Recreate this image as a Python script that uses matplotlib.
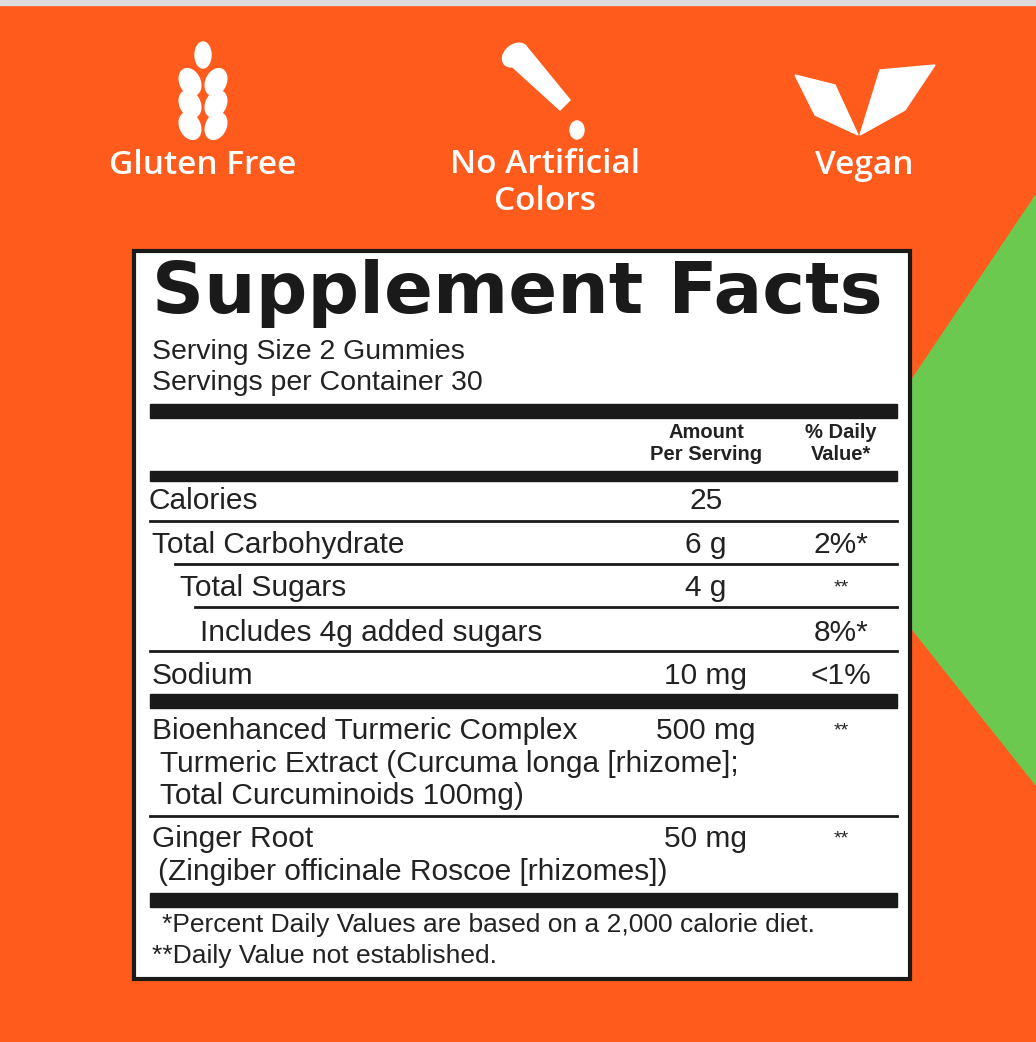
import matplotlib.pyplot as plt
from matplotlib.patches import Polygon, Rectangle, Ellipse

ORANGE = '#FE5B1D'
GREEN = '#6CC94F'

badges = ['Gluten Free', 'No Artificial\nColors', 'Vegan']
badge_x = [203, 545, 864]

serving_lines = ['Serving Size 2 Gummies', 'Servings per Container 30']
row_labels = ['Calories', 'Total Carbohydrate', 'Total Sugars', 'Includes 4g added sugars',
              'Sodium', 'Bioenhanced Turmeric Complex', 'Ginger Root']
row_indent = [148, 152, 180, 200, 152, 152, 152]
row_y = [501, 545, 588, 633, 676, 731, 839]
row_amount = ['25', '6 g', '4 g', '', '10 mg', '500 mg', '50 mg']
row_dv = ['', '2%*', '**', '8%*', '<1%', '**', '**']
sub_lines = [(160, 764, 'Turmeric Extract (Curcuma longa [rhizome];'),
             (160, 796, 'Total Curcuminoids 100mg)'),
             (158, 872, '(Zingiber officinale Roscoe [rhizomes])')]
footnotes = ['*Percent Daily Values are based on a 2,000 calorie diet.',
             '**Daily Value not established.']

BODY = 21.5

fig = plt.figure(figsize=(10.36, 10.42), dpi=100)
ax = fig.add_axes([0, 0, 1, 1])
ax.set_xlim(0, 1036)
ax.set_ylim(1042, 0)
ax.axis('off')
ax.add_patch(Rectangle((0, 0), 1036, 1042, color=ORANGE, zorder=0))
ax.add_patch(Rectangle((0, 0), 1036, 5, color='#dddddd', zorder=1))
ax.add_patch(Polygon([(1036, 195), (905, 390), (905, 620), (1036, 785)], color=GREEN, zorder=1))

# icons
for dy in range(3):
    for sx in (-1, 1):
        ax.add_patch(Ellipse((203 + sx * 13, 82 + dy * 22), 20, 28, angle=sx * 25, color='white', zorder=2))
ax.add_patch(Ellipse((203, 55), 16, 26, color='white', zorder=2))
ax.add_patch(Polygon([(505, 60), (525, 45), (570, 100), (560, 110)], color='white', zorder=2))
ax.add_patch(Ellipse((515, 55), 28, 20, angle=-40, color='white', zorder=2))
ax.add_patch(Ellipse((577, 130), 14, 18, color='white', zorder=2))
ax.add_patch(Polygon([(795, 75), (835, 85), (858, 135), (815, 115)], color='white', zorder=2))
ax.add_patch(Polygon([(935, 65), (880, 70), (860, 135), (905, 110)], color='white', zorder=2))
for t, x in zip(badges, badge_x):
    ax.text(x, 165 if '\n' not in t else 183, t, color='white', fontsize=24, fontweight='semibold',
            ha='center', va='center', family='Open Sans', linespacing=1.15, zorder=3)

# label box
ax.add_patch(Rectangle((134, 251), 776, 728, facecolor='white', edgecolor='#1a1a1a', lw=3, zorder=2))
ax.text(152, 293, 'Supplement Facts', fontsize=52, fontweight='black', family='DejaVu Sans',
        va='center', color='#1a1a1a', zorder=3)
for i, s in enumerate(serving_lines):
    ax.text(152, 352 + i * 31, s, fontsize=20.5, va='center', family='Liberation Sans', color='#222', zorder=3)

for y0, h in [(404, 14), (471, 10), (694, 14), (893, 14)]:
    ax.add_patch(Rectangle((150, y0), 747, h, color='#1a1a1a', zorder=3))
for y, x0 in [(521, 150), (564, 175), (607, 195), (651, 150), (816, 150)]:
    ax.plot([x0, 897], [y, y], color='#1a1a1a', lw=2, zorder=3)

ax.text(706, 444, 'Amount\nPer Serving', fontsize=14.5, fontweight='bold', ha='center', va='center',
        family='Liberation Sans', color='#222', zorder=3)
ax.text(841, 444, '% Daily\nValue*', fontsize=14.5, fontweight='bold', ha='center', va='center',
        family='Liberation Sans', color='#222', zorder=3)

for lab, x, y, a, d in zip(row_labels, row_indent, row_y, row_amount, row_dv):
    ax.text(x, y, lab, fontsize=BODY, va='center', family='Liberation Sans', color='#222', zorder=3)
    ax.text(706, y, a, fontsize=BODY, ha='center', va='center', family='Liberation Sans', color='#222', zorder=3)
    ax.text(841, y, d, fontsize=BODY if d != '**' else 14, ha='center', va='center',
            family='Liberation Sans', color='#222', zorder=3)
for x, y, s in sub_lines:
    ax.text(x, y, s, fontsize=BODY, va='center', family='Liberation Sans', color='#222', zorder=3)
for i, s in enumerate(footnotes):
    ax.text(162 if i == 0 else 152, 925 + i * 31, s, fontsize=19, va='center',
            family='Liberation Sans', color='#222', zorder=3)

fig.savefig('out.png', dpi=100)
